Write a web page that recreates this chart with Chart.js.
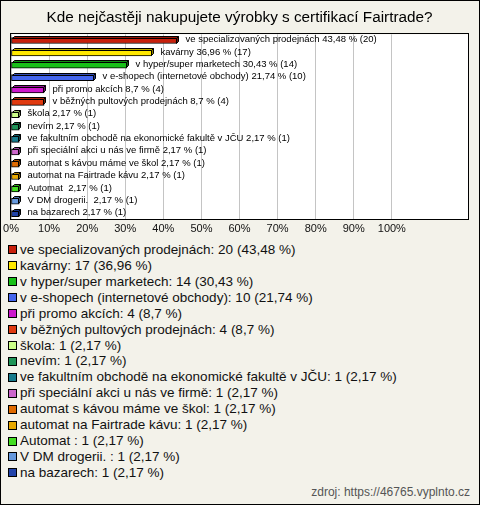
<!DOCTYPE html>
<html lang="cs">

<head>
    <meta charset="UTF-8">
    <script src="https://cdn.jsdelivr.net/npm/chart.js"></script>
    <title>Fairtrade</title>

    <style>
        body {
            margin: 0;
        }

        .ramecek {
            position: relative;
            width: 480px;
            height: 505px;
            box-sizing: border-box;
            border: 1px solid #000;
            background: #F3F2EA;
            font-family: Arial, "Liberation Sans", sans-serif;
            overflow: hidden;
        }

        .graf_sty {
            position: absolute;
            left: -1px;
            top: -1px;
            width: 480px;
            height: 240px;
        }

        #legenda {
            position: absolute;
            left: 7px;
            top: 241px;
            font-size: 13.5px;
            color: #111;
        }

        .polozka {
            height: 15.93px;
            line-height: 15.93px;
            white-space: pre;
            display: flex;
            align-items: center;
        }

        .ctverec {
            width: 7px;
            height: 7px;
            border: 1px solid #000;
            margin-right: 3px;
            flex: none;
        }

        .zdroj {
            position: absolute;
            right: 9px;
            top: 484px;
            font-size: 12px;
            color: #555;
        }
    </style>
</head>

<body>

    <div class="ramecek">
        <div class="graf_sty">
            <canvas id="graf_1" width="480" height="240"></canvas>
        </div>
        <div id="legenda"></div>
        <div class="zdroj">zdroj: https://46765.vyplnto.cz</div>
    </div>

    <script>

        // data z obrazku
        const kategorie = [
            've specializovaných prodejnách',
            'kavárny',
            'v hyper/super marketech',
            'v e-shopech (internetové obchody)',
            'při promo akcích',
            'v běžných pultových prodejnách',
            'škola',
            'nevím',
            've fakultním obchodě na ekonomické fakultě v JČU',
            'při speciální akci u nás ve firmě',
            'automat s kávou máme ve škol',
            'automat na Fairtrade kávu',
            'Automat ',
            'V DM drogerii. ',
            'na bazarech'
        ];
        const procenta = [43.48, 36.96, 30.43, 21.74, 8.7, 8.7, 2.17, 2.17, 2.17, 2.17, 2.17, 2.17, 2.17, 2.17, 2.17];
        const odpovedi = [20, 17, 14, 10, 4, 4, 1, 1, 1, 1, 1, 1, 1, 1, 1];
        const osaMax = 120;
        const osaKrok = 10;
        const osaPosledni = 100;

        const barvy = [
            '#C8200C', '#FFE800', '#18C018', '#4466EE', '#CC18CC',
            '#E03A10', '#CCFF88', '#1E9458', '#167A8C', '#CC66CC',
            '#E06A00', '#E8A800', '#44DD22', '#6699DD', '#2244AA'
        ];

        const titulek = 'Kde nejčastěji nakupujete výrobky s certifikací Fairtrade?';

        function cislo(v) {
            return String(v).replace('.', ',');
        }

        function tmavsi(hex, k) {
            const n = parseInt(hex.slice(1), 16);
            const r = Math.round(((n >> 16) & 255) * k);
            const g = Math.round(((n >> 8) & 255) * k);
            const b = Math.round((n & 255) * k);
            return 'rgb(' + r + ',' + g + ',' + b + ')';
        }

        // bile pozadi grafu + cerny ramecek
        const plocha = {
            id: 'plocha',
            beforeDraw(chart) {
                const a = chart.chartArea;
                const ctx = chart.ctx;
                ctx.save();
                ctx.fillStyle = '#fff';
                ctx.fillRect(a.left, a.top, a.right - a.left, a.bottom - a.top);
                ctx.restore();
            },
            afterDraw(chart) {
                const a = chart.chartArea;
                const ctx = chart.ctx;
                ctx.save();
                ctx.strokeStyle = '#000';
                ctx.lineWidth = 1;
                ctx.strokeRect(Math.round(a.left) - 0.5, Math.round(a.top) - 0.5, Math.round(a.right - a.left) + 1, Math.round(a.bottom - a.top) + 1);
                ctx.restore();
            }
        };

        // 3D vrch a bok sloupcu + popisky
        const sloupce3d = {
            id: 'sloupce3d',
            afterDatasetsDraw(chart) {
                const ctx = chart.ctx;
                const meta = chart.getDatasetMeta(0);
                const d = 2;
                meta.data.forEach((bar, i) => {
                    const x0 = Math.round(bar.base) + 0.5;
                    const x1 = Math.round(bar.x) - 0.5;
                    const top = Math.round(bar.y - bar.height / 2) + 0.5;
                    const bottom = Math.round(bar.y + bar.height / 2) - 0.5;

                    ctx.save();
                    ctx.strokeStyle = '#000';
                    ctx.lineWidth = 1;

                    ctx.beginPath();
                    ctx.moveTo(x0, top);
                    ctx.lineTo(x0 + d, top - d);
                    ctx.lineTo(x1 + d, top - d);
                    ctx.lineTo(x1, top);
                    ctx.closePath();
                    ctx.fillStyle = tmavsi(barvy[i], 0.75);
                    ctx.fill();
                    ctx.stroke();

                    ctx.beginPath();
                    ctx.moveTo(x1, top);
                    ctx.lineTo(x1 + d, top - d);
                    ctx.lineTo(x1 + d, bottom - d);
                    ctx.lineTo(x1, bottom);
                    ctx.closePath();
                    ctx.fillStyle = tmavsi(barvy[i], 0.55);
                    ctx.fill();
                    ctx.stroke();

                    const text = kategorie[i] + ' ' + cislo(procenta[i]) + ' % (' + odpovedi[i] + ')';
                    ctx.fillStyle = '#000';
                    ctx.font = '9.5px Arial';
                    ctx.textBaseline = 'middle';
                    ctx.fillText(text, x1 + d + 7, bar.y - 1);
                    ctx.restore();
                });
            }
        };

        const ctx = document.getElementById('graf_1');

        const graf_1 = new Chart(ctx, {
            type: 'bar',
            data: {
                labels: kategorie,
                datasets: [{
                    data: procenta,
                    backgroundColor: barvy,
                    borderColor: '#000',
                    borderWidth: 1,
                    borderSkipped: false,
                    barThickness: 6
                }]
            },
            options: {
                indexAxis: 'y',
                responsive: false,
                animation: false,
                layout: {
                    padding: { left: 11, right: 12, top: 0, bottom: 1 }
                },
                plugins: {
                    legend: { display: false },
                    tooltip: { enabled: false },
                    title: {
                        display: true,
                        text: titulek,
                        color: '#000',
                        font: { family: 'Arial', size: 15.3, weight: 'normal' },
                        padding: { top: 9, bottom: 7 }
                    }
                },
                scales: {
                    x: {
                        min: 0,
                        max: osaMax,
                        afterBuildTicks: (osa) => {
                            osa.ticks = osa.ticks.filter(t => t.value <= osaPosledni);
                        },
                        ticks: {
                            stepSize: osaKrok,
                            color: '#111',
                            padding: 3,
                            maxRotation: 0,
                            font: { family: 'Arial', size: 11 },
                            callback: (v) => v + '%'
                        },
                        grid: {
                            color: '#C4C4C4',
                            drawTicks: false
                        },
                        border: { display: false }
                    },
                    y: {
                        display: false
                    }
                }
            },
            plugins: [plocha, sloupce3d]
        });

        // legenda pod grafem
        const legenda = document.getElementById('legenda');
        kategorie.forEach((k, i) => {
            const radek = document.createElement('div');
            radek.className = 'polozka';
            const ctverec = document.createElement('span');
            ctverec.className = 'ctverec';
            ctverec.style.background = barvy[i];
            const text = document.createElement('span');
            text.textContent = k + ': ' + odpovedi[i] + ' (' + cislo(procenta[i]) + ' %)';
            radek.appendChild(ctverec);
            radek.appendChild(text);
            legenda.appendChild(radek);
        });

    </script>

</body>

</html>
